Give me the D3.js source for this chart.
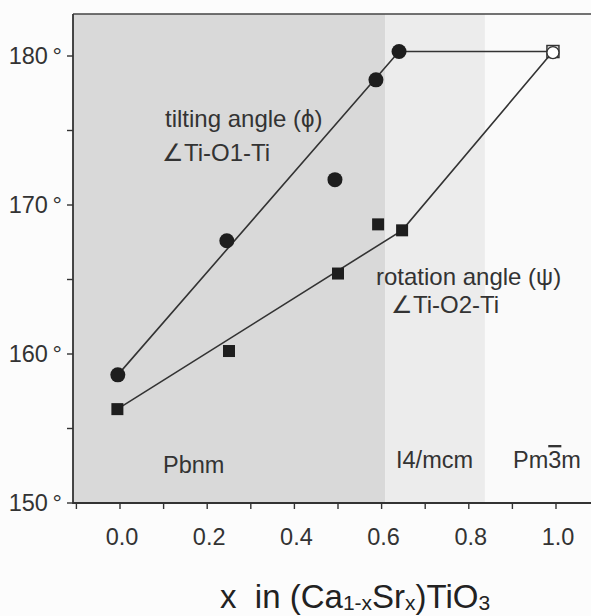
<!DOCTYPE html>
<html>
<head>
<meta charset="utf-8">
<script src="https://cdn.jsdelivr.net/npm/d3@7"></script>
<style>
  html, body { margin: 0; padding: 0; background: #fcfcfc; }
  svg { display: block; font-family: "Liberation Sans", Arial, Helvetica, sans-serif; }
</style>
</head>
<body>
<svg id="chart" width="591" height="616"></svg>
<script>
// ---- data ----
const tiltX = [-0.005, 0.245, 0.493, 0.587, 0.640];
const tiltY = [158.6, 167.6, 171.7, 178.4, 180.3];
const rotX = [-0.006, 0.250, 0.500, 0.592, 0.647];
const rotY = [156.3, 160.2, 165.4, 168.7, 168.3];
const cubicX = [0.993];
const cubicY = [180.3];
const tiltLineX = [-0.005, 0.640, 0.993];
const tiltLineY = [158.6, 180.3, 180.3];
const rotLineX = [-0.006, 0.647, 0.993];
const rotLineY = [156.3, 168.3, 180.3];
const phaseNames = ["Pbnm", "I4/mcm", "Pm3m"];
const phaseStart = [-0.1, 0.608, 0.837];
const phaseEnd = [0.608, 0.837, 1.1];
const xTicks = [0.0, 0.2, 0.4, 0.6, 0.8, 1.0];
const xMinorTicks = [-0.1, 0.1, 0.3, 0.5, 0.7, 0.9];
const yTicks = [150, 160, 170, 180];
const yMinorTicks = [155, 165, 175];

const svg = d3.select("#chart");
const x = d3.scaleLinear().domain([-0.1, 1.1]).range([76.4, 599.6]);
const y = d3.scaleLinear().domain([150, 180]).range([503, 56]);
const plotTop = 14;
const axisLeft = 73;

// phase shading
const shades = ["#d9d9d9", "#ececec", "#fafafa"];
svg.append("g").selectAll("rect").data(phaseNames).join("rect")
  .attr("x", (d, i) => i === 0 ? axisLeft : x(phaseStart[i]))
  .attr("y", plotTop)
  .attr("width", (d, i) => x(phaseEnd[i]) - (i === 0 ? axisLeft : x(phaseStart[i])))
  .attr("height", y(150) - plotTop)
  .attr("fill", (d, i) => shades[i]);

// frame: top border
svg.append("line").attr("x1", axisLeft).attr("x2", x(1.1)).attr("y1", plotTop).attr("y2", plotTop)
  .attr("stroke", "#444").attr("stroke-width", 1.6);

// x axis
const xAxis = svg.append("g").attr("transform", `translate(0,${y(150)})`);
xAxis.append("line").attr("x1", axisLeft).attr("x2", x(1.1)).attr("stroke", "#333").attr("stroke-width", 1.8);
xAxis.selectAll(".tk").data(xTicks.concat(xMinorTicks)).join("line")
  .attr("x1", d => x(d)).attr("x2", d => x(d)).attr("y1", 0).attr("y2", 6)
  .attr("stroke", "#333").attr("stroke-width", 1.4);
xAxis.selectAll("text").data(xTicks).join("text")
  .attr("x", d => x(d) + 2).attr("y", 42)
  .attr("text-anchor", "middle").attr("font-size", 23.5).attr("fill", "#333")
  .text(d => d3.format(".1f")(d));

// y axis
const yAxis = svg.append("g").attr("transform", `translate(${axisLeft},0)`);
yAxis.append("line").attr("y1", plotTop).attr("y2", y(150) + 1).attr("stroke", "#333").attr("stroke-width", 1.8);
yAxis.selectAll(".tk").data(yTicks.concat(yMinorTicks)).join("line")
  .attr("y1", d => y(d)).attr("y2", d => y(d)).attr("x1", -6).attr("x2", 0)
  .attr("stroke", "#333").attr("stroke-width", 1.4);
yAxis.selectAll("text").data(yTicks).join("text")
  .attr("x", -11).attr("y", d => y(d) + 8)
  .attr("text-anchor", "end").attr("font-size", 23.5).attr("fill", "#333")
  .text(d => d + "\u2009°");

// lines
const line = d3.line().x(d => x(d[0])).y(d => y(d[1]));
svg.append("path").attr("d", line(d3.zip(tiltLineX, tiltLineY)))
  .attr("fill", "none").attr("stroke", "#333").attr("stroke-width", 1.6);
svg.append("path").attr("d", line(d3.zip(rotLineX, rotLineY)))
  .attr("fill", "none").attr("stroke", "#333").attr("stroke-width", 1.6);

// markers
svg.append("g").selectAll("circle").data(d3.zip(tiltX, tiltY)).join("circle")
  .attr("cx", d => x(d[0])).attr("cy", d => y(d[1])).attr("r", 7.5).attr("fill", "#1e1e1e");
svg.append("g").selectAll("rect").data(d3.zip(rotX, rotY)).join("rect")
  .attr("x", d => x(d[0]) - 6).attr("y", d => y(d[1]) - 6).attr("width", 12).attr("height", 12)
  .attr("fill", "#1e1e1e");
// cubic end point: open square + open circle
svg.append("g").selectAll("rect").data(d3.zip(cubicX, cubicY)).join("rect")
  .attr("x", d => x(d[0]) - 6).attr("y", d => y(d[1]) - 6).attr("width", 12).attr("height", 12)
  .attr("fill", "#fff").attr("stroke", "#333").attr("stroke-width", 1.5);
svg.append("g").selectAll("circle").data(d3.zip(cubicX, cubicY)).join("circle")
  .attr("cx", d => x(d[0])).attr("cy", d => y(d[1]) + 1).attr("r", 6)
  .attr("fill", "#fff").attr("stroke", "#333").attr("stroke-width", 1.3);

// annotations
const ann = svg.append("g").attr("fill", "#333").attr("font-size", 24);
ann.append("text").attr("x", 165).attr("y", 127).text("tilting angle (\u03D5)");
ann.append("text").attr("x", 162).attr("y", 161).text("\u2220Ti-O1-Ti");
ann.append("text").attr("x", 376).attr("y", 285).text("rotation angle (\u03C8)");
ann.append("text").attr("x", 391).attr("y", 313).text("\u2220Ti-O2-Ti");

// phase labels
const phaseLabelX = [163, 396, 513];
const pl = svg.append("g").attr("fill", "#333").attr("font-size", 23.5);
pl.append("text").attr("x", phaseLabelX[0]).attr("y", 473).text(phaseNames[0]);
pl.append("text").attr("x", phaseLabelX[1]).attr("y", 468).text(phaseNames[1]);
const pm = pl.append("text").attr("x", phaseLabelX[2]).attr("y", 468);
pm.append("tspan").text("Pm");
pm.append("tspan").style("text-decoration", "overline").text("3");
pm.append("tspan").text("m");

// x axis title
const xt = svg.append("text").attr("x", 220).attr("y", 608).attr("font-size", 33).attr("fill", "#222")
  .attr("xml:space", "preserve");
xt.append("tspan").text("x\u00a0\u00a0in (Ca");
xt.append("tspan").attr("font-size", 21).attr("dy", 2).text("1-x");
xt.append("tspan").attr("dy", -2).text("Sr");
xt.append("tspan").attr("font-size", 21).attr("dy", 2).text("x");
xt.append("tspan").attr("dy", -2).text(")TiO");
xt.append("tspan").attr("font-size", 21).attr("dy", 2).text("3");
</script>
</body>
</html>
